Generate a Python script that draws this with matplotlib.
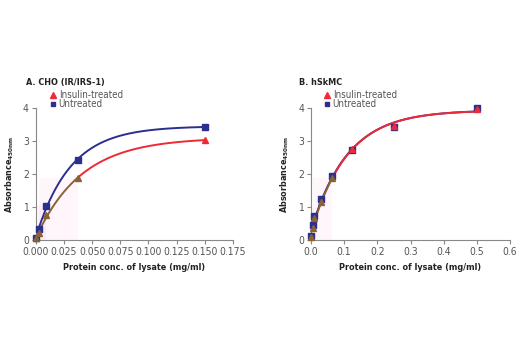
import matplotlib
matplotlib.use("Agg")
import matplotlib.pyplot as plt
import numpy as np
from matplotlib.patches import Rectangle

plt.rcParams["font.family"] = ["DejaVu Sans"]
plt.rcParams["font.stretch"] = "condensed"
plt.rcParams["mathtext.default"] = "regular"

# panel A: CHO (IR/IRS-1)
conc_a = [0.0, 0.00234, 0.009375, 0.0375, 0.15]
insulin_a = [0.05, 0.21, 0.75, 1.87, 3.03]
untreated_a = [0.07, 0.33, 1.03, 2.43, 3.43]

# panel B: hSkMC
conc_b = [0.0, 0.005, 0.0098, 0.03125, 0.0625, 0.125, 0.25, 0.5]
insulin_b = [0.10, 0.38, 0.67, 1.14, 1.89, 2.74, 3.46, 3.95]
untreated_b = [0.13, 0.45, 0.73, 1.23, 1.94, 2.72, 3.43, 3.98]

RED = "#ee2a35"
BLUE = "#2b2f8e"
BROWN = "#8a6236"
GREY = "#555555"


def fit_curve(x, y, xs):
    # y = c + a*(1 - exp(-b x)), b by grid search, a and c by least squares
    x = np.asarray(x)
    y = np.asarray(y)
    best = None
    for b in np.linspace(1, 80, 800):
        A = np.column_stack([np.ones_like(x), 1 - np.exp(-b * x)])
        coef, *_ = np.linalg.lstsq(A, y, rcond=None)
        err = np.sum((A @ coef - y) ** 2)
        if best is None or err < best[0]:
            best = (err, b, coef)
    _, b, coef = best
    return coef[0] + coef[1] * (1 - np.exp(-b * xs))


def panel(ax, x, ins, unt, title, xmax, xticks, fmt, knee, tx, lx):
    xs = np.linspace(0, max(x), 300)
    # faint pink highlight of the low-concentration region
    ax.add_patch(Rectangle((x[1], 0), x[knee] - x[1], ins[knee], color="#ff66cc",
                           alpha=0.06, lw=0, zorder=0))
    ax.add_patch(Rectangle((x[0], 0), x[2] - x[0], ins[2] + 0.3, color="#ff66cc",
                           alpha=0.07, lw=0, zorder=0))
    yu = fit_curve(x, unt, xs)
    yi = fit_curve(x, ins, xs)
    ax.plot(xs, yu, color=BLUE, lw=1.4, zorder=2)
    lo = xs <= x[knee]
    ax.plot(xs[~lo], yi[~lo], color=RED, lw=1.4, zorder=3)
    ax.plot(xs[lo], yi[lo], color=BROWN, lw=1.4, zorder=3)
    ax.plot(x, unt, "s", color=BLUE, ms=4.5, clip_on=False, zorder=4)
    ax.plot(x[knee + 1:], ins[knee + 1:], "^", color=RED, ms=4.5, clip_on=False, zorder=5)
    ax.plot(x[:knee + 1], ins[:knee + 1], "^", color=BROWN, ms=4.5, clip_on=False, zorder=5)

    ax.set_xlim(0, xmax)
    ax.set_ylim(0, 4)
    ax.set_xticks(xticks)
    ax.set_xticklabels([fmt.format(t) for t in xticks])
    ax.set_yticks([0, 1, 2, 3, 4])
    for s in ("top", "right"):
        ax.spines[s].set_visible(False)
    for s in ("left", "bottom"):
        ax.spines[s].set_color("#888888")
        ax.spines[s].set_linewidth(0.8)
    ax.tick_params(length=3, width=0.8, color="#888888", labelsize=7.5, labelcolor=GREY, pad=2)
    ax.set_xlabel("Protein conc. of lysate (mg/ml)", fontsize=6.5, fontweight="bold",
                  color="#222222", labelpad=4)
    ax.set_ylabel("Absorbance$_{450nm}$", fontsize=6.5, fontweight="bold",
                  color="#222222", labelpad=5)
    ax.text(tx, 1.195, title, transform=ax.transAxes, fontsize=6.5,
            fontweight="bold", color="#222222", va="center")
    ax.plot([lx], [1.10], "^", color=RED, ms=3.8, transform=ax.transAxes, clip_on=False)
    ax.text(lx + 0.03, 1.10, "Insulin-treated", transform=ax.transAxes, fontsize=7,
            color=GREY, va="center")
    ax.plot([lx], [1.025], "s", color=BLUE, ms=3.3, transform=ax.transAxes, clip_on=False)
    ax.text(lx + 0.03, 1.025, "Untreated", transform=ax.transAxes, fontsize=7,
            color=GREY, va="center")


fig = plt.figure(figsize=(5.2, 3.5), dpi=100)
ax_a = fig.add_axes([0.069, 0.314, 0.379, 0.378])
ax_b = fig.add_axes([0.598, 0.314, 0.383, 0.378])

panel(ax_a, conc_a, insulin_a, untreated_a, "A. CHO (IR/IRS-1)", 0.175,
      [0, 0.025, 0.05, 0.075, 0.1, 0.125, 0.15, 0.175], "{:.3f}", 3, -0.05, 0.086)
panel(ax_b, conc_b, insulin_b, untreated_b, "B. hSkMC", 0.6,
      [0, 0.1, 0.2, 0.3, 0.4, 0.5, 0.6], "{:.1f}", 4, -0.06, 0.079)

fig.savefig("out.png", dpi=100)
